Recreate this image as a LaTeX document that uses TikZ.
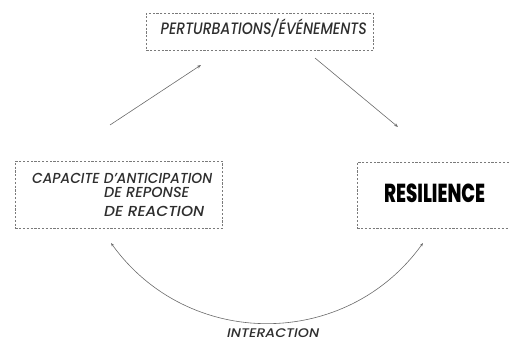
\documentclass[tikz,border=0pt]{standalone}
\usepackage{fontspec}
\usepackage{graphicx}
\setmainfont{Poppins}[UprightFont=* Medium,ItalicFont=* Medium Italic,
  BoldFont=* ExtraBold]
\usetikzlibrary{arrows.meta}
\definecolor{inkgray}{HTML}{2E2E2E}
\definecolor{framegray}{HTML}{7A7A7A}
\definecolor{linkgray}{HTML}{6A6A6A}
\begin{document}
\begin{tikzpicture}[x=1pt,y=-1pt,
  frame/.style={draw=framegray,line width=0.6pt,dash pattern=on 2.2pt off 1.6pt,
    inner sep=0pt,anchor=north west},
  label/.style={inner sep=0pt,text=inkgray,anchor=base west},
  link/.style={draw=linkgray,line width=0.6pt,
    -{Stealth[length=4pt,width=3pt]}},
  swing/.style={draw=linkgray,line width=0.6pt,
    {Stealth[length=3.5pt,width=2.6pt]}-{Stealth[length=3.5pt,width=2.6pt]}}]
\useasboundingbox (0,0) rectangle (509,342);
\clip (0,0) rectangle (509,342);
% dashed frames
\node[frame,minimum width=227pt,minimum height=37pt] (top) at (146,13) {};
\node[frame,minimum width=207pt,minimum height=67pt] (left) at (15,161) {};
\node[frame,minimum width=170pt,minimum height=66pt] (right) at (357,162) {};
% captions
\node[label] (tt) at (160.5,35)
  {\resizebox{206pt}{\height}{\fontsize{16.5}{18}\selectfont\itshape PERTURBATIONS/ÉVÉNEMENTS}};
\node[label] (l1) at (32,183)
  {\resizebox{180pt}{\height}{\fontsize{14.5}{16}\selectfont\itshape CAPACITE D'ANTICIPATION}};
\node[label] (l2) at (104,197.5)
  {\resizebox{85pt}{\height}{\fontsize{14.5}{16}\selectfont\itshape DE REPONSE}};
\node[label] (l3) at (104,216)
  {\resizebox{100pt}{\height}{\fontsize{14.5}{16}\selectfont\itshape DE REACTION}};
\node[label,text=black] (res) at (384,203)
  {\resizebox{101pt}{\height}{\fontsize{26}{28}\selectfont\bfseries RESILIENCE}};
\node[label] (inter) at (227,337.5)
  {\resizebox{92pt}{\height}{\fontsize{12.5}{14}\selectfont\itshape INTERACTION}};
% connectors
\coordinate (a1) at (110,125);
\coordinate (a2) at (201,65);
\coordinate (b1) at (315,58);
\coordinate (b2) at (398,127);
\coordinate (c1) at (111,243);
\coordinate (c2) at (423,243);
\draw[link] (a1) -- (a2);
\draw[link] (b1) -- (b2);
\draw[swing] (c1) .. controls (188,350) and (346,350) .. (c2);
\end{tikzpicture}
\end{document}
